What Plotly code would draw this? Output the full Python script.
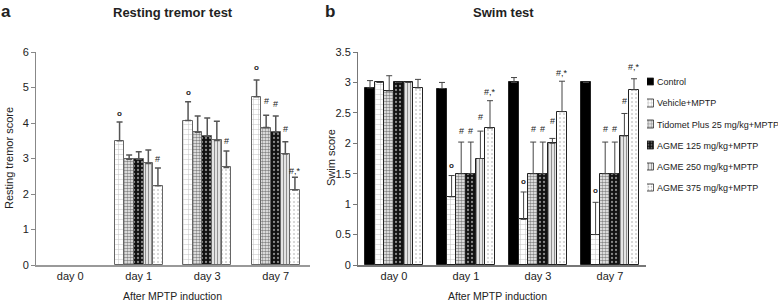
import plotly.graph_objects as go

days = ["day 0", "day 1", "day 3", "day 7"]
groups = ["Control", "Vehicle+MPTP", "Tidomet Plus 25 mg/kg+MPTP",
          "AGME 125 mg/kg+MPTP", "AGME 250 mg/kg+MPTP", "AGME 375 mg/kg+MPTP"]

# Resting tremor score (no control bars; day 0 empty)
tremor_vehicle = [None, 3.50, 4.07, 4.74]
tremor_tidomet = [None, 2.98, 3.74, 3.87]
tremor_agme125 = [None, 2.98, 3.63, 3.75]
tremor_agme250 = [None, 2.86, 3.51, 3.13]
tremor_agme375 = [None, 2.23, 2.75, 2.11]
tremor_err_vehicle = [None, 0.53, 0.53, 0.47]
tremor_err_tidomet = [None, 0.12, 0.46, 0.35]
tremor_err_agme125 = [None, 0.21, 0.51, 0.45]
tremor_err_agme250 = [None, 0.38, 0.54, 0.34]
tremor_err_agme375 = [None, 0.50, 0.46, 0.36]

# Swim score
swim_control = [2.91, 2.90, 3.00, 3.00]
swim_vehicle = [3.00, 1.12, 0.75, 0.50]
swim_tidomet = [2.86, 1.50, 1.50, 1.50]
swim_agme125 = [3.00, 1.50, 1.50, 1.50]
swim_agme250 = [3.00, 1.75, 2.00, 2.12]
swim_agme375 = [2.91, 2.25, 2.52, 2.88]
swim_err_control = [0.12, 0.10, 0.08, 0.0]
swim_err_vehicle = [0.0, 0.35, 0.45, 0.53]
swim_err_tidomet = [0.25, 0.52, 0.52, 0.52]
swim_err_agme125 = [0.0, 0.52, 0.52, 0.52]
swim_err_agme250 = [0.0, 0.45, 0.08, 0.37]
swim_err_agme375 = [0.14, 0.45, 0.50, 0.18]

# significance marks: (day index, group index within panel, text, y)
tremor_marks = [(1, 0, "o", 4.27), (1, 4, "#", 3.00),
                (2, 0, "o", 4.86), (2, 4, "#", 3.50),
                (3, 0, "o", 5.56), (3, 1, "#", 4.62), (3, 2, "#", 4.53),
                (3, 3, "#", 3.82), (3, 4, "#,*", 2.66)]
swim_marks = [(1, 1, "o", 1.63), (1, 2, "#", 2.20), (1, 3, "#", 2.20),
              (1, 4, "#", 2.43), (1, 5, "#,*", 2.84),
              (2, 1, "o", 1.37), (2, 2, "#", 2.24), (2, 3, "#", 2.24),
              (2, 4, "#", 2.37), (2, 5, "#,*", 3.16),
              (3, 1, "o", 1.22), (3, 2, "#", 2.24), (3, 3, "#", 2.24),
              (3, 4, "#", 2.69), (3, 5, "#,*", 3.25)]

FONT = "Liberation Sans, Arial, sans-serif"

pat_shape = ["", "+", ".", ".", "|", "."]
pat_fg = ["black", "#8a8a8a", "#111", "white", "#222", "#9a9a9a"]
pat_bg = ["black", "white", "white", "#111", "white", "white"]
pat_size = [4, 5, 3, 4, 3, 4]
pat_sol = [0.3, 0.2, 0.6, 0.25, 0.5, 0.2]
fills = ["black", "white", "white", "#111", "white", "white"]

def pattern(i):
    return dict(shape=pat_shape[i], fgcolor=pat_fg[i], bgcolor=pat_bg[i],
                size=pat_size[i], solidity=pat_sol[i])

xpos = list(range(len(days)))
fig = go.Figure()

# left panel
tremor_vals = [tremor_vehicle, tremor_tidomet, tremor_agme125, tremor_agme250, tremor_agme375]
tremor_errs = [tremor_err_vehicle, tremor_err_tidomet, tremor_err_agme125,
               tremor_err_agme250, tremor_err_agme375]
wl = 0.14
nl = len(tremor_vals)
for k, (vals, errs) in enumerate(zip(tremor_vals, tremor_errs)):
    gi = k + 1
    fig.add_trace(go.Bar(
        x=xpos, y=vals, width=wl, offset=-nl * wl / 2 + k * wl,
        name=groups[gi], showlegend=False, xaxis="x", yaxis="y",
        marker=dict(color=fills[gi], pattern=pattern(gi),
                    line=dict(color="#666", width=1)),
        error_y=dict(type="data", symmetric=False, array=errs,
                     arrayminus=[0 if e is not None else None for e in errs],
                     color="#555", thickness=1.5, width=3),
    ))

# right panel
swim_vals = [swim_control, swim_vehicle, swim_tidomet, swim_agme125, swim_agme250, swim_agme375]
swim_errs = [swim_err_control, swim_err_vehicle, swim_err_tidomet, swim_err_agme125,
             swim_err_agme250, swim_err_agme375]
wr = 0.8 / 6
nr = len(swim_vals)
for k, (vals, errs) in enumerate(zip(swim_vals, swim_errs)):
    fig.add_trace(go.Bar(
        x=xpos, y=vals, width=wr, offset=-nr * wr / 2 + k * wr,
        name=groups[k], showlegend=False,
        xaxis="x2", yaxis="y2",
        marker=dict(color=fills[k], pattern=pattern(k),
                    line=dict(color="#222", width=1)),
        error_y=dict(type="data", symmetric=False, array=errs,
                     arrayminus=[0] * len(errs),
                     color="#444", thickness=1, width=3),
    ))

# legend drawn as swatches on a small categorical axis
fig.add_trace(go.Bar(
    x=[1] * len(groups), y=groups, orientation="h", width=0.36,
    xaxis="x3", yaxis="y3", showlegend=False, hoverinfo="skip",
    marker=dict(color=fills, line=dict(color="#222", width=0.8),
                pattern=dict(shape=pat_shape, fgcolor=pat_fg, bgcolor=pat_bg,
                             size=[3] * 6, solidity=pat_sol)),
))

annotations = []
for d, g, t, yv in tremor_marks:
    annotations.append(dict(x=d - nl * wl / 2 + (g + 0.5) * wl, y=yv, xref="x", yref="y",
                            text="<b>o</b>" if t == "o" else t, showarrow=False,
                            yanchor="middle",
                            font=dict(size=8 if t == "o" else 9, color="#222", family=FONT)))
for d, g, t, yv in swim_marks:
    annotations.append(dict(x=d - nr * wr / 2 + (g + 0.5) * wr, y=yv, xref="x2", yref="y2",
                            text="<b>o</b>" if t == "o" else t, showarrow=False,
                            yanchor="middle",
                            font=dict(size=8 if t == "o" else 9, color="#222", family=FONT)))

W, H = 778, 304
def px(v):
    return v / W
def py(v):
    return (H - v) / H

texts = [
    ("<b>a</b>", 6, 11, 17),
    ("<b>b</b>", 330, 11, 17),
    ("<b>Resting tremor test</b>", 173, 12, 13),
    ("<b>Swim test</b>", 503, 12, 13),
    ("After MPTP induction", 172, 296, 10.5),
    ("After MPTP induction", 497, 296, 10.5),
]
for t, xx, yy, s in texts:
    annotations.append(dict(x=px(xx), y=py(yy), xref="paper", yref="paper", text=t,
                            showarrow=False, xanchor="center", yanchor="middle",
                            font=dict(size=s, color="#222", family=FONT)))
annotations.append(dict(x=px(9), y=py(158), xref="paper", yref="paper",
                        text="Resting tremor score", textangle=-90, showarrow=False,
                        xanchor="center", yanchor="middle",
                        font=dict(size=11, color="#222", family=FONT)))
annotations.append(dict(x=px(331), y=py(158), xref="paper", yref="paper",
                        text="Swim score", textangle=-90, showarrow=False,
                        xanchor="center", yanchor="middle",
                        font=dict(size=11, color="#222", family=FONT)))

ydom = [py(265), py(52)]
axis_common = dict(showgrid=False, zeroline=False, showline=True,
                   tickfont=dict(size=11, color="#222", family=FONT))
fig.update_layout(
    width=W, height=H, margin=dict(l=0, r=0, t=0, b=0, autoexpand=False),
    paper_bgcolor="white", plot_bgcolor="white",
    barmode="overlay", bargap=0, showlegend=False,
    font=dict(family=FONT, size=11, color="#222"),
    xaxis=dict(domain=[px(36), px(310)], range=[-0.5, 3.5], tickvals=xpos, ticktext=days,
               ticks="", linecolor="#999", linewidth=2, anchor="y", **axis_common),
    yaxis=dict(domain=ydom, range=[0, 6], dtick=1, ticks="outside", ticklen=4,
               tickcolor="#888", linecolor="#888", linewidth=1, anchor="x", **axis_common),
    xaxis2=dict(domain=[px(358), px(646)], range=[-0.5, 3.5], tickvals=xpos, ticktext=days,
                ticks="", linecolor="#777", linewidth=1.5, anchor="y2", **axis_common),
    yaxis2=dict(domain=ydom, range=[0, 3.5], dtick=0.5, ticks="outside", ticklen=4,
                tickcolor="#777", linecolor="#777", linewidth=1, anchor="x2", **axis_common),
    xaxis3=dict(domain=[px(647), px(654)], range=[0, 1], visible=False, anchor="y3",
                fixedrange=True),
    yaxis3=dict(domain=[py(198.6), py(71.4)], type="category", categoryarray=groups,
                autorange="reversed", anchor="x3", side="right", showgrid=False,
                zeroline=False, showline=False, ticks="", ticklabelstandoff=2,
                tickfont=dict(size=9, color="#222", family=FONT), fixedrange=True),
    annotations=annotations,
)

fig.write_html("out.html", config={"displayModeBar": False},
               post_script="document.body.style.margin='0';")
